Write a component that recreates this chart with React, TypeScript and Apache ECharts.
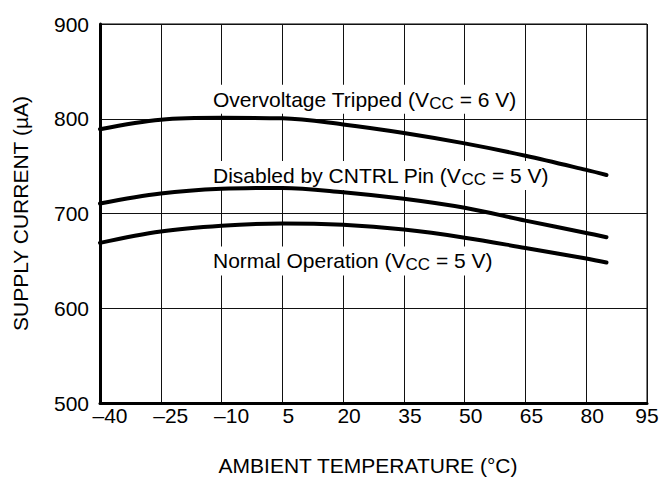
import React, { useEffect, useRef } from "react";
import * as echarts from "echarts";

const temps = [-40, -25, -10, 5, 20, 35, 50, 65, 80, 85];
const overvoltage = [789, 799, 801, 800.5, 794, 785, 774, 761, 746, 740.6];
const disabled = [710.5, 721, 726, 727, 722.5, 715.5, 706, 692.5, 679.5, 675];
const normal = [669, 681, 687, 689.5, 688, 683, 674.5, 663.6, 652.5, 648.3];

const xTicks = [-40, -25, -10, 5, 20, 35, 50, 65, 80, 95];
const yTicks = [500, 600, 700, 800, 900];

const labelTexts = [
  { pre: "Overvoltage Tripped (V", sub: "CC", post: " = 6 V)", x: -12.85, y: 820.5 },
  { pre: "Disabled by CNTRL Pin (V", sub: "CC", post: " = 5 V)", x: -12.85, y: 740 },
  { pre: "Normal Operation (V", sub: "CC", post: " = 5 V)", x: -12.85, y: 650 },
];

const FONT = "'Liberation Sans', Arial, Helvetica, sans-serif";

export default function App() {
  const ref = useRef<HTMLDivElement>(null);
  useEffect(() => {
    document.body.style.margin = "0";
    const chart = echarts.init(ref.current!, null, { renderer: "svg" });
    const seriesData = [overvoltage, disabled, normal];
    const series: any[] = seriesData.map((vals, i) => ({
      type: "line",
      z: 3,
      data: temps.map((t, j) => [t, vals[j]]),
      smooth: 0.35,
      showSymbol: false,
      symbol: "none",
      lineStyle: { color: "#000", width: 4, cap: "round" },
      markPoint: {
        symbol: "circle",
        symbolSize: 0,
        silent: true,
        z: 1,
        data: [
          {
            coord: [labelTexts[i].x, labelTexts[i].y],
            label: {
              show: true,
              position: "inside",
              align: "left",
              verticalAlign: "middle",
              backgroundColor: "#fff",
              padding: [2, 3],
              formatter: `{a|${labelTexts[i].pre}}{s|${labelTexts[i].sub}}{a|${labelTexts[i].post}}`,
              rich: {
                a: { fontSize: 21, fontFamily: FONT, color: "#000", lineHeight: 25 },
                s: {
                  fontSize: 17,
                  fontFamily: FONT,
                  color: "#000",
                  lineHeight: 16,
                  padding: [9, 0, 0, 0],
                  verticalAlign: "bottom",
                },
              },
            },
          },
        ],
      },
    }));

    chart.setOption({
      animation: false,
      backgroundColor: "#fff",
      grid: {
        left: 100,
        right: 25,
        top: 24,
        bottom: 72,
        show: true,
        borderColor: "#000",
        borderWidth: 1,
      },
      xAxis: {
        type: "value",
        min: xTicks[0],
        max: xTicks[xTicks.length - 1],
        interval: 15,
        name: "AMBIENT TEMPERATURE (°C)",
        nameLocation: "middle",
        nameGap: 52,
        nameTextStyle: { fontSize: 21, fontFamily: FONT, color: "#000", padding: [0, 11, 0, 0] },
        axisLine: { show: true, onZero: false, lineStyle: { color: "#000", width: 3 } },
        axisTick: { show: false },
        splitLine: { show: true, lineStyle: { color: "#111", width: 1 } },
        axisLabel: {
          margin: 2,
          fontSize: 21,
          fontFamily: FONT,
          color: "#000",
          formatter: (v: number) => {
            if (v < 0) return `{n|\u2013${Math.abs(v)}}`;
            if (v === 95) return `{e|${v}}`;
            return `{p|${v}}`;
          },
          rich: {
            n: { fontSize: 21, fontFamily: FONT, color: "#000", padding: [0, 0, 0, 20] },
            p: { fontSize: 21, fontFamily: FONT, color: "#000", padding: [0, 0, 0, 12] },
            e: { fontSize: 21, fontFamily: FONT, color: "#000" },
          },
        },
      },
      yAxis: {
        type: "value",
        min: yTicks[0],
        max: yTicks[yTicks.length - 1],
        interval: 100,
        name: "SUPPLY CURRENT (\u00b5A)",
        nameLocation: "middle",
        nameRotate: 90,
        nameGap: 69,
        nameTextStyle: { fontSize: 21, fontFamily: FONT, color: "#000" },
        axisLine: { show: true, onZero: false, lineStyle: { color: "#000", width: 3 } },
        axisTick: { show: false },
        splitLine: { show: true, lineStyle: { color: "#111", width: 1 } },
        axisLabel: {
          margin: 11,
          fontSize: 21,
          fontFamily: FONT,
          color: "#000",
          padding: [0, 0, 9, 0],
        },
      },
      series,
    });
    return () => chart.dispose();
  }, []);
  return (
    <div
      ref={ref}
      style={{ position: "absolute", left: 0, top: 0, width: 672, height: 481 }}
    />
  );
}
